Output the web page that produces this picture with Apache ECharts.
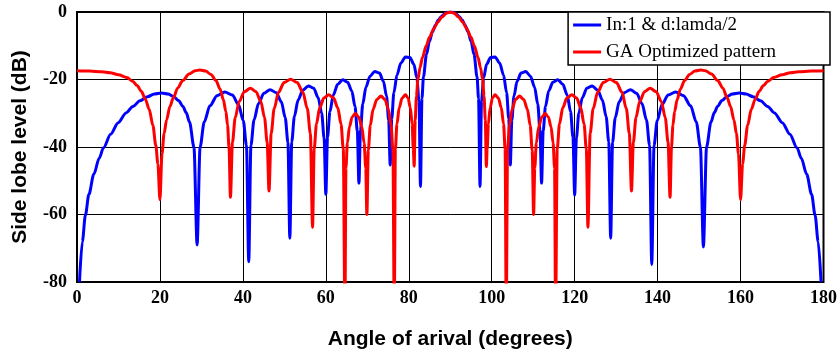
<!DOCTYPE html>
<html>
<head>
<meta charset="utf-8">
<script src="https://cdn.jsdelivr.net/npm/echarts/dist/echarts.min.js"></script>
<style>
html,body{margin:0;padding:0;background:#fff;}
#chart{width:840px;height:355px;}
</style>
</head>
<body>
<div id="chart"></div>
<script>
// ---- data ----
const xTicks = [0, 20, 40, 60, 80, 100, 120, 140, 160, 180];
const yTicks = [-80, -60, -40, -20, 0];
const seriesNames = ['In:1 & d:lamda/2', 'GA Optimized pattern'];

const blueAngles = [
0.6,1.28,2.03,2.86,4.05,5.36,6.4,8.11,9.94,11.83,13.46,15.2,17.0,18.64,20.36,21.97,23.25,24.49,25.5,26.33,27.13,28.2,28.96,
29.68,30.68,32.05,33.77,35.66,37.46,38.96,40.09,40.86,41.41,
41.94,42.69,43.74,45.07,46.57,48.03,49.27,50.21,50.86,51.32,
51.78,52.41,53.31,54.46,55.77,57.06,58.16,59.0,59.58,60.0,
60.41,60.99,61.8,62.86,64.06,65.24,66.26,67.04,67.59,67.98,
68.36,68.9,69.66,70.66,71.79,72.92,73.89,74.63,75.15,75.52,
75.89,76.41,77.15,78.1,79.19,80.28,81.23,81.95,82.46,82.82,
83.18,83.54,84.26,84.98,85.7,86.42,87.13,87.85,88.57,89.28,90,
90.72,91.43,92.15,92.87,93.58,94.3,95.02,95.74,96.46,96.82,97.18,
97.54,98.05,98.77,99.72,100.81,101.9,102.85,103.59,104.11,104.48,
104.85,105.37,106.11,107.08,108.21,109.34,110.34,111.1,111.64,112.02,
112.41,112.96,113.74,114.76,115.94,117.14,118.2,119.01,119.59,120.0,
120.42,121.0,121.84,122.94,124.23,125.54,126.69,127.59,128.22,128.68,
129.14,129.79,130.73,131.97,133.43,134.93,136.26,137.31,138.06,138.59,
139.14,139.91,141.04,142.54,144.34,146.23,147.95,149.32,150.32,151.04,
151.8,152.87,153.67,154.5,155.51,156.75,158.03,159.64,161.36,163.0,164.8,166.54,168.17,170.06,171.89,173.6,174.64,175.95,177.14,177.97,178.72,179.4
];
const blueDb = [
-80,-68.1,-60.2,-54.1,-48.1,-43.3,-40.2,-36.2,-32.8,-29.9,-28.0,-26.3,-25.1,-24.3,-24.0,-24.3,-25.0,-26.2,-27.9,-29.8,-32.6,-40.0,-69.0,
-40.0,-32.6,-27.8,-24.8,-23.7,-24.6,-27.5,-32.2,-39.5,-74.0,
-39.5,-32.0,-27.2,-24.1,-23.0,-23.9,-26.6,-31.3,-38.6,-67.0,
-38.5,-31.0,-26.1,-23.1,-21.9,-22.6,-25.4,-30.0,-37.3,-54.0,
-37.1,-29.5,-24.6,-21.4,-20.1,-20.8,-23.4,-28.0,-35.2,-50.7,
-35.0,-27.3,-22.3,-19.0,-17.6,-18.1,-20.5,-24.9,-32.0,-45.3,
-31.6,-23.9,-18.7,-15.1,-13.3,-13.5,-15.5,-19.5,-26.4,-51.7,
-25.6,-19.2,-12.6,-8.7,-5.9,-3.9,-2.4,-1.3,-0.6,-0.1,0,
-0.1,-0.6,-1.3,-2.4,-3.9,-5.9,-8.7,-12.6,-19.2,-25.6,-51.7,
-26.4,-19.5,-15.5,-13.5,-13.3,-15.1,-18.7,-23.9,-31.6,-45.3,
-32.0,-24.9,-20.5,-18.1,-17.6,-19.0,-22.3,-27.3,-35.0,-50.7,
-35.2,-28.0,-23.4,-20.8,-20.1,-21.4,-24.6,-29.5,-37.1,-54.2,
-37.3,-30.0,-25.4,-22.6,-21.9,-23.1,-26.1,-31.0,-38.5,-67.0,
-38.6,-31.3,-26.6,-23.9,-23.0,-24.1,-27.2,-32.0,-39.5,-74.8,
-39.5,-32.2,-27.5,-24.6,-23.7,-24.8,-27.8,-32.6,-40.0,-69.6,
-40.0,-32.6,-29.8,-27.9,-26.2,-25.0,-24.3,-24.0,-24.3,-25.1,-26.3,-28.0,-29.9,-32.8,-36.2,-40.2,-43.3,-48.1,-54.1,-60.2,-68.1,-80
];

const redAngles = [
0,3,6,8,10,12,13.5,14.5,15.5,16.5,17.4,18.3,19.0,19.5,20.0,
20.5,21.0,21.6,22.4,23.2,24.3,25.5,27.0,28.5,29.6,31.0,32.3,33.5,34.5,35.3,35.9,36.3,36.65,37.0,
37.48,38.15,39.11,40.36,41.8,43.15,44.32,45.22,45.85,46.3,
46.82,47.55,48.59,49.94,51.5,53.09,54.47,55.53,56.27,56.8,
57.19,57.74,58.52,59.53,60.7,61.87,62.88,63.66,64.21,64.6,
64.85,65.2,65.7,66.35,67.1,67.94,68.67,69.23,69.62,69.9,
70.24,70.72,71.4,72.28,73.3,74.26,75.09,75.73,76.18,76.5,
76.77,77.15,77.69,78.39,79.2,79.83,80.38,80.8,81.09,81.3,
81.55,81.85,82.2,82.7,83.3,84.2,85.0,86.0,87.0,88.0,89.0,90,
91.0,92.0,93.0,94.0,95.0,95.8,96.7,97.3,97.8,98.15,98.45,98.7,
98.91,99.2,99.62,100.17,100.8,101.61,102.31,102.85,103.23,103.5,
103.82,104.27,104.91,105.74,106.7,107.72,108.6,109.28,109.76,110.1,
110.38,110.77,111.33,112.06,112.9,113.65,114.3,114.8,115.15,115.4,
115.79,116.34,117.12,118.13,119.3,120.47,121.48,122.26,122.81,123.2,
123.73,124.47,125.53,126.91,128.5,130.06,131.41,132.45,133.18,133.7,
134.15,134.78,135.68,136.85,138.2,139.64,140.89,141.85,142.52,143.0,
143.35,143.7,144.1,144.7,145.5,146.5,147.7,149.0,150.4,151.5,153.0,154.5,155.7,156.8,157.6,158.4,159.0,159.5,160.0,
160.5,161.0,161.7,162.6,163.5,164.5,165.5,166.5,168.0,170.0,172.0,174.0,177.0,180.0
];
const redDb = [
-17.4,-17.5,-17.7,-18.0,-18.6,-19.4,-20.6,-21.8,-23.5,-25.9,-28.8,-33.6,-39.5,-45,-55.6,
-42,-36,-32,-28,-25.5,-22.5,-20.3,-18.4,-17.4,-17.2,-17.5,-18.5,-20.3,-22.8,-26.0,-29.5,-33.5,-40,-54.9,
-38.7,-31.3,-26.5,-23.6,-22.6,-23.6,-26.5,-31.3,-38.7,-53.0,
-36.0,-28.6,-23.8,-20.9,-19.9,-20.9,-23.8,-28.6,-36.0,-63.8,
-40.6,-33.2,-28.4,-25.5,-24.5,-25.5,-28.4,-33.2,-40.6,-90,
-46.2,-38.8,-34.0,-31.1,-30.1,-31.1,-34.0,-38.8,-46.2,-60.0,
-41.0,-33.6,-28.8,-25.9,-24.9,-25.9,-28.8,-33.6,-41.0,-90,
-40.6,-33.2,-28.4,-25.5,-24.5,-25.5,-28.4,-33.2,-40.6,-45.7,
-32,-25,-20,-16.5,-13.5,-10,-7.5,-5.0,-3.0,-1.5,-0.4,0,
-0.4,-1.5,-3.0,-5.0,-7.5,-10,-13.5,-16.5,-20,-25,-32,-45.8,
-40.6,-33.2,-28.4,-25.5,-24.5,-25.5,-28.4,-33.2,-40.6,-90,
-41.0,-33.6,-28.8,-25.9,-24.9,-25.9,-28.8,-33.6,-41.0,-60.0,
-46.2,-38.8,-34.0,-31.1,-30.1,-31.1,-34.0,-38.8,-46.2,-90,
-40.6,-33.2,-28.4,-25.5,-24.5,-25.5,-28.4,-33.2,-40.6,-63.8,
-36.0,-28.6,-23.8,-20.9,-19.9,-20.9,-23.8,-28.6,-36.0,-53.0,
-38.7,-31.3,-26.5,-23.6,-22.6,-23.6,-26.5,-31.3,-38.7,-54.9,
-40,-33.5,-29.5,-26.0,-22.8,-20.3,-18.5,-17.5,-17.2,-17.4,-18.4,-20.3,-22.5,-25.5,-28,-32,-36,-42,-55.6,
-45,-39.5,-33.6,-28.8,-25.9,-23.5,-21.8,-20.6,-19.4,-18.6,-18.0,-17.7,-17.5,-17.4
];

// ---- chart ----
const zip = (xs, ys) => xs.map((x, i) => [x, ys[i]]);
const chart = echarts.init(document.getElementById('chart'), null, {renderer: 'canvas'});
const tickFont = {fontFamily: 'Liberation Serif', fontWeight: 'bold', fontSize: 18, color: '#000'};
const nameFont = {fontFamily: 'Liberation Sans', fontWeight: 'bold', fontSize: 21, color: '#000'};

chart.setOption({
  animation: false,
  backgroundColor: '#fff',
  grid: {left: 77, right: 9, top: 12, bottom: 71, show: true, borderColor: '#000', borderWidth: 2, backgroundColor: 'transparent'},
  legend: {
    data: seriesNames,
    orient: 'vertical',
    right: 10, top: 12,
    icon: 'rect', itemWidth: 28, itemHeight: 3, itemGap: 5,
    padding: [2, 54, 2, 5],
    backgroundColor: '#fff', borderColor: '#000', borderWidth: 1.5,
    textStyle: {fontFamily: 'Liberation Serif', fontSize: 19, color: '#000', lineHeight: 22}
  },
  xAxis: {
    type: 'value', min: xTicks[0], max: xTicks[xTicks.length - 1], interval: xTicks[1] - xTicks[0],
    name: 'Angle of arival (degrees)', nameLocation: 'middle', nameGap: 47, nameTextStyle: nameFont,
    axisLine: {show: true, lineStyle: {color: '#000', width: 2}},
    axisTick: {show: false},
    axisLabel: Object.assign({margin: 7}, tickFont),
    splitLine: {show: true, lineStyle: {color: '#000', width: 1}}
  },
  yAxis: {
    type: 'value', min: yTicks[0], max: yTicks[yTicks.length - 1], interval: yTicks[1] - yTicks[0],
    name: 'Side lobe level (dB)', nameLocation: 'middle', nameGap: 46, nameTextStyle: nameFont,
    axisLine: {show: true, lineStyle: {color: '#000', width: 2}},
    axisTick: {show: false},
    axisLabel: Object.assign({margin: 10}, tickFont),
    splitLine: {show: true, lineStyle: {color: '#000', width: 1}}
  },
  series: [
    {name: seriesNames[0], type: 'line', data: zip(blueAngles, blueDb), showSymbol: false, symbol: 'none',
     smooth: 0.3, smoothMonotone: 'x',
     clip: true, lineStyle: {color: '#0000ff', width: 3}, itemStyle: {color: '#0000ff'}, z: 2},
    {name: seriesNames[1], type: 'line', data: zip(redAngles, redDb), showSymbol: false, symbol: 'none',
     smooth: 0.3, smoothMonotone: 'x',
     clip: true, lineStyle: {color: '#ff0000', width: 3}, itemStyle: {color: '#ff0000'}, z: 3}
  ]
});
</script>
</body>
</html>
